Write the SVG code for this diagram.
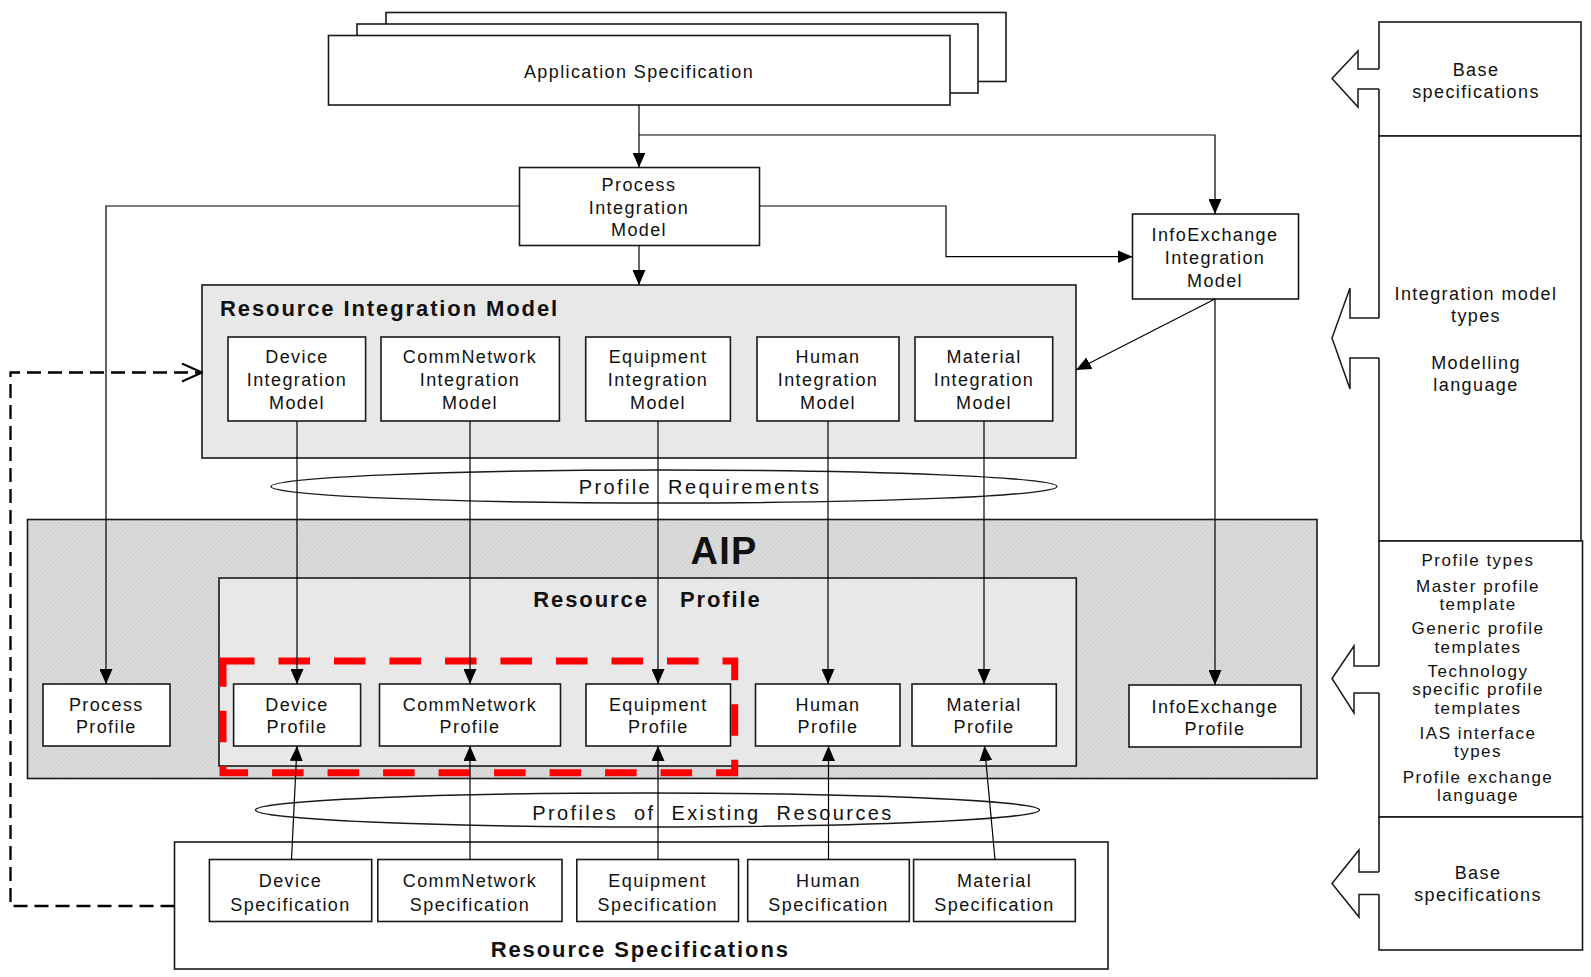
<svg xmlns="http://www.w3.org/2000/svg" width="1591" height="977" viewBox="0 0 1591 977">
<defs>
<style>
.box{fill:#fff;stroke:#1a1a1a;stroke-width:1.6}
.grey{fill:#e8e8e8;stroke:#1a1a1a;stroke-width:1.6}
.t{font-family:"Liberation Sans",Arial,sans-serif;font-size:18px;letter-spacing:1.4px;fill:#111;text-anchor:middle}
.ts{font-family:"Liberation Sans",Arial,sans-serif;font-size:17px;letter-spacing:1.5px;fill:#111;text-anchor:middle}
.tb{font-family:"Liberation Sans",Arial,sans-serif;font-size:22px;font-weight:bold;letter-spacing:1.9px;fill:#111}
.te{font-family:"Liberation Sans",Arial,sans-serif;font-size:20px;letter-spacing:2.4px;fill:#111;text-anchor:middle;white-space:pre}
.c{fill:none;stroke:#000;stroke-width:1.2}
.ca{fill:none;stroke:#000;stroke-width:1.2;marker-end:url(#arr)}
.blk{fill:#fff;stroke:none}
.blo{fill:none;stroke:#1a1a1a;stroke-width:1.5}
</style>
<marker id="arr" viewBox="0 0 15 13" refX="15" refY="6.5" markerWidth="15" markerHeight="13" markerUnits="userSpaceOnUse" orient="auto"><path d="M0,0 L15,6.5 L0,13 z" fill="#000"/></marker>
<marker id="open" viewBox="0 0 22 20" refX="21" refY="10" markerWidth="22" markerHeight="20" markerUnits="userSpaceOnUse" orient="auto"><path d="M1,1 L21,10 L1,19" fill="none" stroke="#000" stroke-width="2" stroke-dasharray="none"/></marker>
<pattern id="hatch" width="3" height="3" patternUnits="userSpaceOnUse" patternTransform="rotate(45)"><rect width="3" height="3" fill="#dcdcdc"/><line x1="0" y1="0" x2="0" y2="3" stroke="#c6c6c6" stroke-width="1.2"/></pattern>
</defs>
<rect width="1591" height="977" fill="#fff"/>

<!-- AIP container -->
<g id="aip">
<rect x="27.5" y="519.5" width="1289.5" height="259" fill="url(#hatch)" stroke="#1a1a1a" stroke-width="1.6"/>
<text x="724" y="564.3" style="font-family:'Liberation Sans',Arial,sans-serif;font-size:38px;font-weight:bold;letter-spacing:1.2px;fill:#111;text-anchor:middle">AIP</text>
</g>

<g id="resource-profile">
<rect class="grey" x="219" y="578" width="857.3" height="188"/>
<text class="tb" y="607.3"><tspan x="533.3">Resource</tspan><tspan x="680">Profile</tspan></text>
</g>

<!-- Application specification stack -->
<g id="application-specification">
<rect class="box" x="386" y="12.5" width="620" height="69"/>
<rect class="box" x="357" y="24" width="621" height="69"/>
<rect class="box" x="328.5" y="35.5" width="621.5" height="69.5"/>
<text class="t" x="639" y="78">Application Specification</text>
</g>

<g id="process-integration-model">
<rect class="box" x="519.5" y="167.5" width="240" height="78"/>
<text class="t" x="639" y="191">Process</text>
<text class="t" x="639" y="213.5">Integration</text>
<text class="t" x="639" y="236">Model</text>
</g>

<g id="infoexchange-integration-model">
<rect class="box" x="1132.5" y="214" width="166" height="85"/>
<text class="t" x="1215" y="241">InfoExchange</text>
<text class="t" x="1215" y="264">Integration</text>
<text class="t" x="1215" y="286.5">Model</text>
</g>

<g id="resource-integration-model">
<rect class="grey" x="202" y="285" width="874" height="173"/>
<text class="tb" x="220" y="316">Resource Integration Model</text>
</g>

<g id="device-integration-model">
<rect class="box" x="228" y="337" width="137.6" height="84"/>
<text class="t" x="297" y="363.3">Device</text><text class="t" x="297" y="386">Integration</text><text class="t" x="297" y="408.5">Model</text>
</g>
<g id="commnetwork-integration-model">
<rect class="box" x="381" y="337" width="178.4" height="84"/>
<text class="t" x="470" y="363.3">CommNetwork</text><text class="t" x="470" y="386">Integration</text><text class="t" x="470" y="408.5">Model</text>
</g>
<g id="equipment-integration-model">
<rect class="box" x="585.7" y="337" width="144.7" height="84"/>
<text class="t" x="658" y="363.3">Equipment</text><text class="t" x="658" y="386">Integration</text><text class="t" x="658" y="408.5">Model</text>
</g>
<g id="human-integration-model">
<rect class="box" x="757" y="337" width="142" height="84"/>
<text class="t" x="828" y="363.3">Human</text><text class="t" x="828" y="386">Integration</text><text class="t" x="828" y="408.5">Model</text>
</g>
<g id="material-integration-model">
<rect class="box" x="915" y="337" width="137.7" height="84"/>
<text class="t" x="984" y="363.3">Material</text><text class="t" x="984" y="386">Integration</text><text class="t" x="984" y="408.5">Model</text>
</g>

<g id="profile-requirements">
<ellipse cx="664" cy="486.5" rx="393" ry="16.5" fill="#fff" stroke="#1a1a1a" stroke-width="1.4"/>
<text class="te" x="700" y="494" xml:space="preserve">Profile  Requirements</text>
</g>

<!-- Profiles -->
<g id="process-profile">
<rect class="box" x="43" y="684" width="127" height="62"/>
<text class="t" x="106.3" y="710.5">Process</text><text class="t" x="106.3" y="733">Profile</text>
</g>
<g id="device-profile">
<rect class="box" x="233.6" y="684" width="127" height="62"/>
<text class="t" x="297" y="710.5">Device</text><text class="t" x="297" y="733">Profile</text>
</g>
<g id="commnetwork-profile">
<rect class="box" x="379.5" y="684" width="181" height="62"/>
<text class="t" x="470" y="710.5">CommNetwork</text><text class="t" x="470" y="733">Profile</text>
</g>
<g id="equipment-profile">
<rect class="box" x="586" y="684" width="144.5" height="62"/>
<text class="t" x="658.3" y="710.5">Equipment</text><text class="t" x="658.3" y="733">Profile</text>
</g>
<g id="human-profile">
<rect class="box" x="755.5" y="684" width="144.5" height="62"/>
<text class="t" x="828" y="710.5">Human</text><text class="t" x="828" y="733">Profile</text>
</g>
<g id="material-profile">
<rect class="box" x="912" y="684" width="144.3" height="62"/>
<text class="t" x="984" y="710.5">Material</text><text class="t" x="984" y="733">Profile</text>
</g>
<g id="infoexchange-profile">
<rect class="box" x="1129" y="685" width="172" height="62"/>
<text class="t" x="1215" y="712.5">InfoExchange</text><text class="t" x="1215" y="735">Profile</text>
</g>

<g id="red-selection">
<rect x="223" y="661" width="511.7" height="111.7" fill="none" stroke="#ff0000" stroke-width="7" stroke-dasharray="31.5 24"/>
</g>

<g id="profiles-of-existing-resources">
<ellipse cx="647.5" cy="810" rx="392" ry="17" fill="#fff" stroke="#1a1a1a" stroke-width="1.4"/>
<text class="te" x="713" y="820" xml:space="preserve">Profiles  of  Existing  Resources</text>
</g>

<!-- Resource specifications -->
<g id="resource-specifications">
<rect class="box" x="174.5" y="842" width="933.5" height="127"/>
<text class="tb" x="640.3" y="956.7" text-anchor="middle">Resource Specifications</text>
</g>
<g id="device-specification">
<rect class="box" x="209.4" y="859.5" width="162.3" height="62"/>
<text class="t" x="290.5" y="886.5">Device</text><text class="t" x="290.5" y="910.5">Specification</text>
</g>
<g id="commnetwork-specification">
<rect class="box" x="377.8" y="859.5" width="184.2" height="62"/>
<text class="t" x="470" y="886.5">CommNetwork</text><text class="t" x="470" y="910.5">Specification</text>
</g>
<g id="equipment-specification">
<rect class="box" x="576.8" y="859.5" width="161.7" height="62"/>
<text class="t" x="657.7" y="886.5">Equipment</text><text class="t" x="657.7" y="910.5">Specification</text>
</g>
<g id="human-specification">
<rect class="box" x="747.7" y="859.5" width="161.6" height="62"/>
<text class="t" x="828.5" y="886.5">Human</text><text class="t" x="828.5" y="910.5">Specification</text>
</g>
<g id="material-specification">
<rect class="box" x="913.6" y="859.5" width="161.7" height="62"/>
<text class="t" x="994.5" y="886.5">Material</text><text class="t" x="994.5" y="910.5">Specification</text>
</g>

<!-- Right column -->
<g id="base-specifications-top">
<rect class="box" x="1379" y="22" width="202" height="114"/>
<text class="t" x="1476" y="75.5">Base</text><text class="t" x="1476" y="97.5">specifications</text>
</g>
<g id="integration-model-types">
<rect class="box" x="1379" y="136" width="202" height="405"/>
<text class="t" x="1476" y="300">Integration model</text><text class="t" x="1476" y="322">types</text>
<text class="t" x="1476" y="369">Modelling</text><text class="t" x="1476" y="391">language</text>
</g>
<g id="profile-types">
<rect class="box" x="1379" y="541" width="203.5" height="276"/>
<text class="ts" x="1478" y="566">Profile types</text>
<text class="ts" x="1478" y="591.5">Master profile</text><text class="ts" x="1478" y="610">template</text>
<text class="ts" x="1478" y="634">Generic profile</text><text class="ts" x="1478" y="652.5">templates</text>
<text class="ts" x="1478" y="677">Technology</text><text class="ts" x="1478" y="695">specific profile</text><text class="ts" x="1478" y="713.5">templates</text>
<text class="ts" x="1478" y="739">IAS interface</text><text class="ts" x="1478" y="757">types</text>
<text class="ts" x="1478" y="783">Profile exchange</text><text class="ts" x="1478" y="801">language</text>
</g>
<g id="base-specifications-bottom">
<rect class="box" x="1379" y="817" width="203.5" height="133"/>
<text class="t" x="1478" y="879.3">Base</text><text class="t" x="1478" y="900.7">specifications</text>
</g>

<g id="block-arrows">
<path class="blk" d="M1380.5,69 L1358,69 L1358,51 L1332,78.5 L1358,107 L1358,89 L1380.5,89 Z"/>
<polyline class="blo" points="1379,69 1358,69 1358,51 1332,78.5 1358,107 1358,89 1379,89"/>
<path class="blk" d="M1380.5,318 L1350,318 L1350,288 L1332,338 L1350,389 L1350,358 L1380.5,358 Z"/>
<polyline class="blo" points="1379,318 1350,318 1350,288 1332,338 1350,389 1350,358 1379,358"/>
<path class="blk" d="M1380.5,666 L1354,666 L1354,646 L1332,678.5 L1354,713 L1354,693 L1380.5,693 Z"/>
<polyline class="blo" points="1379,666 1354,666 1354,646 1332,678.5 1354,713 1354,693 1379,693"/>
<path class="blk" d="M1380.5,872 L1359,872 L1359,850 L1332,883.5 L1359,917 L1359,894.5 L1380.5,894.5 Z"/>
<polyline class="blo" points="1379,872 1359,872 1359,850 1332,883.5 1359,917 1359,894.5 1379,894.5"/>
</g>

<!-- Connectors -->
<g id="connectors">
<path class="ca" d="M639,105 L639,167.5"/>
<path class="ca" d="M639,135 L1215,135 L1215,214"/>
<path class="ca" d="M639,245.5 L639,285"/>
<path class="ca" d="M519.5,206 L106,206 L106,684"/>
<path class="ca" d="M759.5,206 L946,206 L946,256.7 L1132.5,256.7"/>
<path class="ca" d="M1215,299 L1215,685"/>
<path class="ca" d="M1215,299 L1076,370"/>
<path class="ca" d="M297,421 L297,684"/>
<path class="ca" d="M470,421 L470,684"/>
<path class="ca" d="M658,421 L658,684"/>
<path class="ca" d="M828,421 L828,684"/>
<path class="ca" d="M984,421 L984,684"/>
<path class="ca" d="M291.5,859.5 L297,746"/>
<path class="ca" d="M470,859.5 L470,746"/>
<path class="ca" d="M658,859.5 L658,746"/>
<path class="ca" d="M828.5,859.5 L828.5,746"/>
<path class="ca" d="M995,859.5 L984.5,746"/>
<path d="M174.5,906 L10.5,906 L10.5,372.5 L202,372.5" fill="none" stroke="#000" stroke-width="2.3" stroke-dasharray="14 7" marker-end="url(#open)"/>
</g>
</svg>
